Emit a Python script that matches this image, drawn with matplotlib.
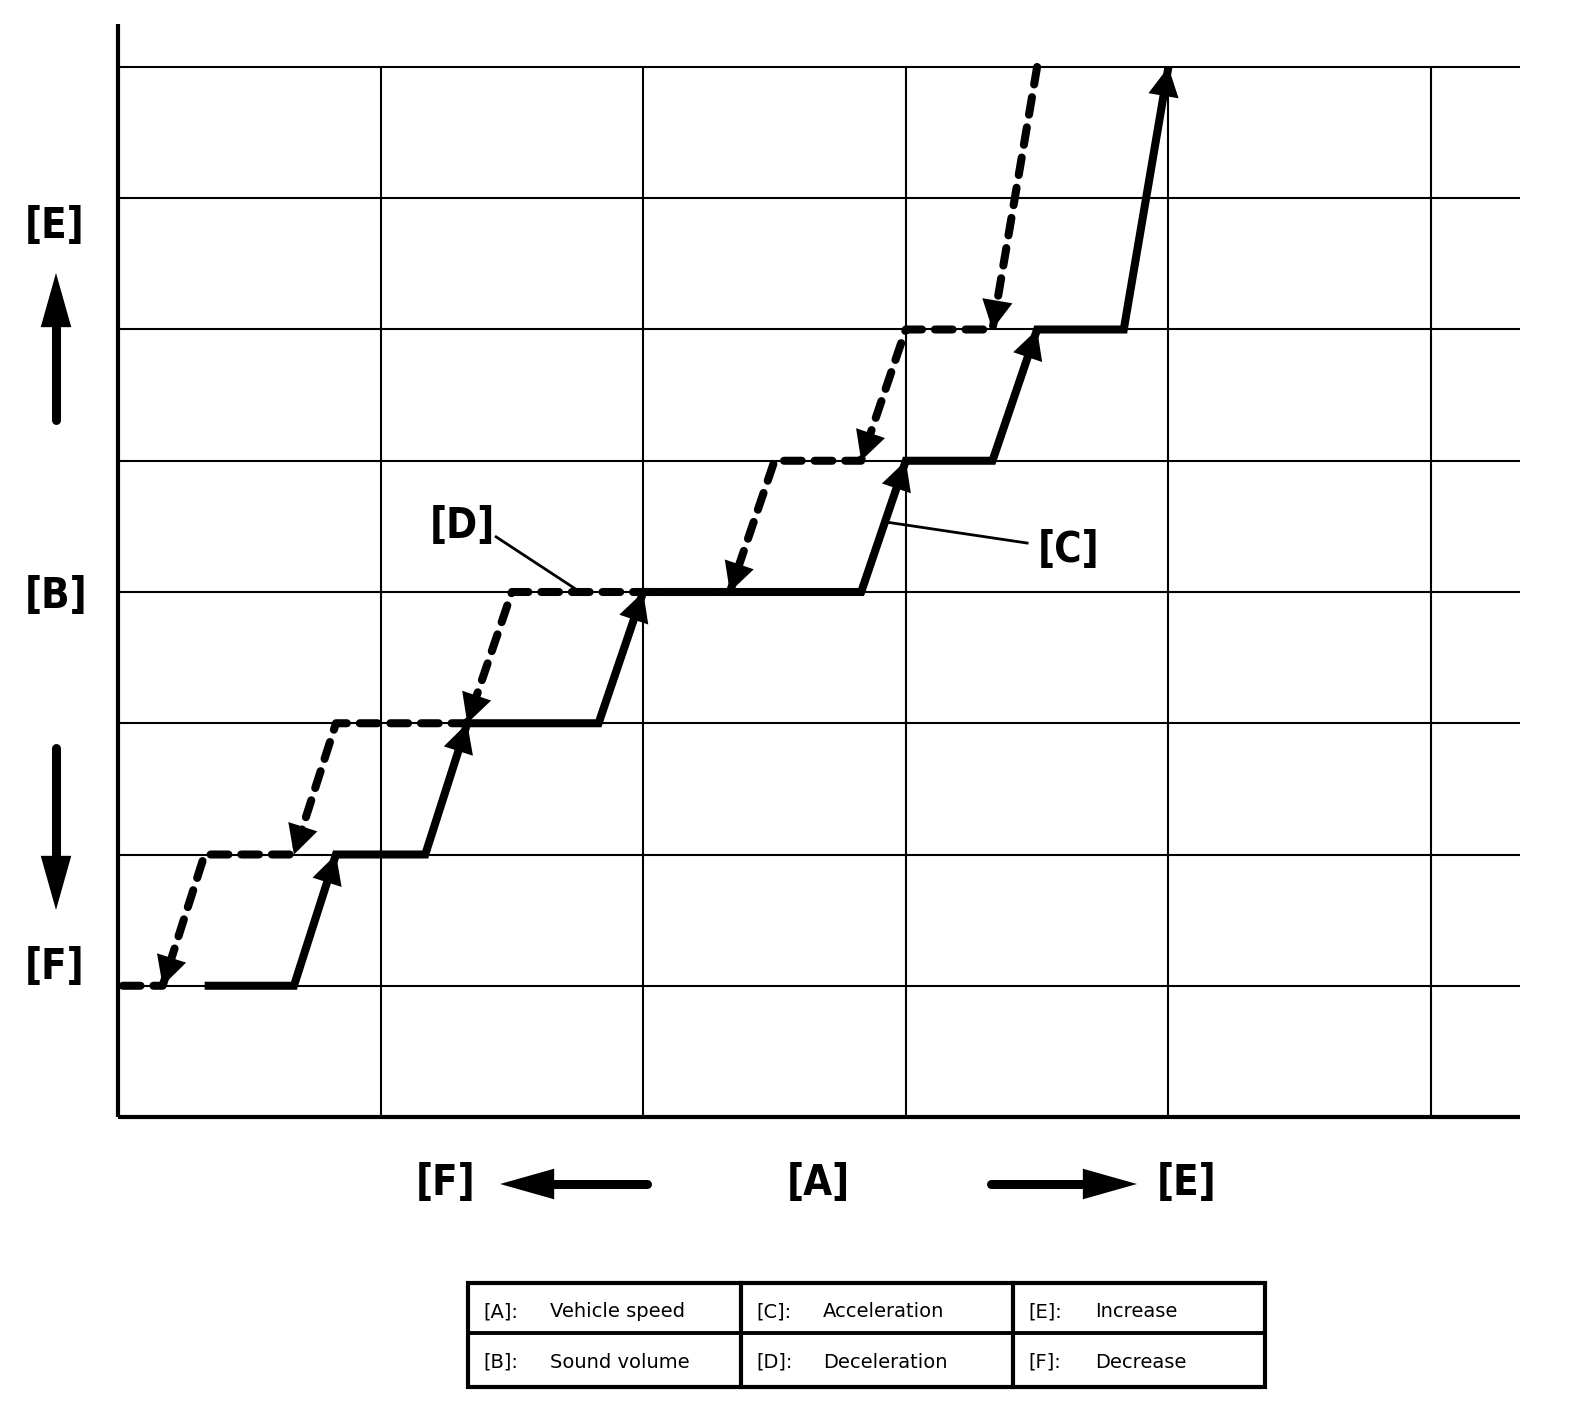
import matplotlib
matplotlib.use("Agg")
import matplotlib.pyplot as plt
from matplotlib.patches import FancyArrowPatch, Rectangle
from matplotlib.lines import Line2D
import numpy as np

W, H = 1584, 1408

# ---- data ----
accel_x = [0.33, 0.67, 0.83, 1.17, 1.33, 1.83, 2.0, 2.83, 3.0, 3.33, 3.5, 3.83, 4.0]
accel_y = [1, 1, 2, 2, 3, 3, 4, 4, 5, 5, 6, 6, 8]
decel_x = [3.5, 3.33, 3.0, 2.83, 2.5, 2.33, 1.5, 1.33, 0.83, 0.67, 0.33, 0.17, 0.0]
decel_y = [8, 6, 6, 5, 5, 4, 4, 3, 3, 2, 2, 1, 1]
grid_x = [1, 2, 3, 4, 5]
grid_y = [1, 2, 3, 4, 5, 6, 7, 8]
legend_keys = [["[A]:", "[C]:", "[E]:"], ["[B]:", "[D]:", "[F]:"]]
legend_vals = [["Vehicle speed", "Acceleration", "Increase"],
               ["Sound volume", "Deceleration", "Decrease"]]

fig = plt.figure(figsize=(W / 100, H / 100), dpi=100)
fig.patch.set_facecolor("white")

def fx(x):
    return x / W

def fy(y):
    return 1 - y / H

# axes placement (pixels of the reference)
L, R, B, T = 118, 1520, 1117, 24
ax = fig.add_axes([fx(L), fy(B), (R - L) / W, (B - T) / H])
xunit = 262.6
yunit = (B - 67) / 8.0
ax.set_xlim(0, (R - L) / xunit)
ax.set_ylim(0, (B - T) / yunit)
ax.set_xticks([])
ax.set_yticks([])
for s in ["top", "right"]:
    ax.spines[s].set_visible(False)
for s in ["left", "bottom"]:
    ax.spines[s].set_linewidth(3.0)
    ax.spines[s].set_capstyle("butt")

xmax = ax.get_xlim()[1]
ax.hlines(grid_y, 0, xmax, colors="black", linewidth=1.5, zorder=1)
ax.vlines(grid_x, 0, max(grid_y), colors="black", linewidth=1.5, zorder=1)

lw = 5.8
# deceleration (dashed)
ax.plot(decel_x, decel_y, color="black", lw=lw, linestyle=(0, (2.2, 1.6)),
        dash_capstyle="round", solid_joinstyle="miter", zorder=3)
# acceleration (solid)
ax.plot(accel_x, accel_y, color="black", lw=lw, solid_capstyle="butt",
        solid_joinstyle="miter", zorder=4)

head = "-|>,head_length=2.1,head_width=1.1"
for i in range(len(accel_x) - 1):
    if accel_y[i + 1] > accel_y[i]:
        a = FancyArrowPatch((accel_x[i], accel_y[i]), (accel_x[i + 1], accel_y[i + 1]),
                            arrowstyle=head, mutation_scale=10, lw=0, color="black",
                            shrinkA=0, shrinkB=0, zorder=5)
        ax.add_patch(a)
for i in range(len(decel_x) - 1):
    if decel_y[i + 1] < decel_y[i]:
        a = FancyArrowPatch((decel_x[i], decel_y[i]), (decel_x[i + 1], decel_y[i + 1]),
                            arrowstyle=head, mutation_scale=10, lw=0, color="black",
                            shrinkA=0, shrinkB=0, zorder=5)
        ax.add_patch(a)

bigfont = dict(family="DejaVu Sans", weight="bold", stretch="condensed", size=30)

# [D] and [C] callouts (data coordinates)
ax.text(1.31, 4.50, "[D]", ha="center", va="center", **bigfont)
ax.plot([1.44, 1.76], [4.42, 4.0], color="black", lw=2.0, zorder=2)
ax.text(3.62, 4.32, "[C]", ha="center", va="center", **bigfont)
ax.plot([3.462, 2.925], [4.373, 4.533], color="black", lw=2.0, zorder=2)

# outer labels (pixel coordinates of the reference)
def ftext(x, y, s, **kw):
    fig.text(fx(x), fy(y), s, **kw)

ftext(55, 226, "[E]", ha="center", va="center", **bigfont)
ftext(56, 596, "[B]", ha="center", va="center", **bigfont)
ftext(55, 967, "[F]", ha="center", va="center", **bigfont)
ftext(446, 1183, "[F]", ha="center", va="center", **bigfont)
ftext(818, 1183, "[A]", ha="center", va="center", **bigfont)
ftext(1187, 1183, "[E]", ha="center", va="center", **bigfont)

def big_arrow(tail, tip):
    tail = np.array(tail, float)
    tip = np.array(tip, float)
    d = (tip - tail) / np.linalg.norm(tip - tail)
    base = tip - d * 48
    fig.add_artist(Line2D([fx(tail[0]), fx(base[0])], [fy(tail[1]), fy(base[1])],
                          transform=fig.transFigure, color="black", lw=6.5,
                          solid_capstyle="round"))
    fig.add_artist(FancyArrowPatch((fx(tail[0]), fy(tail[1])), (fx(tip[0]), fy(tip[1])),
                                   transform=fig.transFigure,
                                   arrowstyle="-|>,head_length=3.9,head_width=1.1",
                                   mutation_scale=10, lw=0, color="black",
                                   shrinkA=0, shrinkB=0))

big_arrow((56, 420), (56, 273))
big_arrow((56, 748), (56, 910))
big_arrow((647, 1184), (500, 1184))
big_arrow((991, 1184), (1137, 1184))

# legend table
tl, tr, tt, tb = 468, 1265, 1283, 1387
col_x = [468, 741, 1013]
row_mid = 1333
fig.add_artist(Rectangle((fx(tl), fy(tb)), (tr - tl) / W, (tb - tt) / H,
                         transform=fig.transFigure, fill=False, lw=3.0,
                         edgecolor="black", joinstyle="miter"))
fig.add_artist(Line2D([fx(tl), fx(tr)], [fy(row_mid), fy(row_mid)],
                      transform=fig.transFigure, color="black", lw=2.8))
for cx in col_x[1:]:
    fig.add_artist(Line2D([fx(cx), fx(cx)], [fy(tt), fy(tb)],
                          transform=fig.transFigure, color="black", lw=3.0))
baselines = [1317, 1368]
for r in range(2):
    for c in range(3):
        ftext(col_x[c] + 15, baselines[r], legend_keys[r][c], ha="left",
              va="baseline", family="DejaVu Sans", size=14)
        ftext(col_x[c] + 82, baselines[r], legend_vals[r][c], ha="left",
              va="baseline", family="DejaVu Sans", size=14)

fig.savefig("out.png", dpi=100, facecolor="white")
